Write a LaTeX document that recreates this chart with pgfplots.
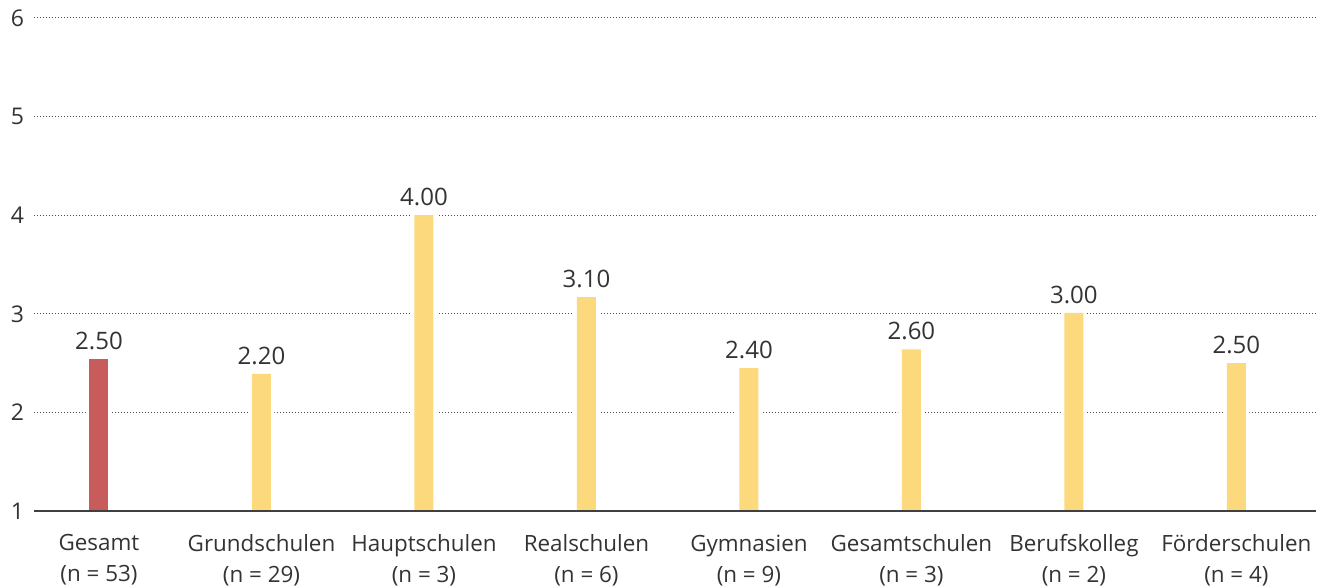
\documentclass[border=0pt]{standalone}
\usepackage{fontspec}
\setmainfont{Open Sans}
\usepackage{pgfplots}
\usepackage{pgfplotstable}
\pgfplotsset{compat=1.18}
\definecolor{barred}{RGB}{200,92,92}
\definecolor{baryel}{RGB}{253,217,125}
\definecolor{txt}{RGB}{51,51,51}
\pgfplotstableread{
x y label
0 2.54 2.50
}\redtab
\pgfplotstableread{
x y label
1 2.39 2.20
2 4.00 4.00
3 3.17 3.10
4 2.45 2.40
5 2.64 2.60
6 3.01 3.00
7 2.50 2.50
}\yeltab
\pgfplotstableread{
x y
0 2.54
1 2.39
2 4.00
3 3.17
4 2.45
5 2.64
6 3.01
7 2.50
}\alltab
\begin{document}
\begin{tikzpicture}
\begin{axis}[
  at={(0,0)}, anchor=south west,
  scale only axis,
  width=641pt, height=246.5pt,
  xmin=-0.4, xmax=7.49,
  ymin=1, ymax=6,
  ytick={1,2,3,4,5,6},
  xtick={0,1,2,3,4,5,6,7},
  xticklabels={{Gesamt\\(n = 53)},{Grundschulen\\(n = 29)},{Hauptschulen\\(n = 3)},{Realschulen\\(n = 6)},{Gymnasien\\(n = 9)},{Gesamtschulen\\(n = 3)},{Berufskolleg\\(n = 2)},{Förderschulen\\(n = 4)}},
  xticklabel style={align=center, font=\fontsize{11.2}{15.5}\selectfont, text=txt, yshift=-4pt},
  yticklabel style={font=\fontsize{11.5}{12}\selectfont, text=txt, xshift=-1.5pt},
  /pgf/number format/assume math mode=true,
  axis line style={draw=none},
  tick style={draw=none},
  ymajorgrids,
  major grid style={draw=black!70, line width=0.5pt, dash pattern=on 0.5pt off 1pt},
  ybar, bar shift=0pt,
  nodes near coords,
  point meta=explicit symbolic,
  nodes near coords style={font=\fontsize{12}{14}\selectfont, text=txt, yshift=1pt},
  clip=false,
]
\addplot[fill=white, draw=none, bar width=13pt, nodes near coords={}] table[x=x,y=y] {\alltab};
\addplot[fill=barred, draw=none, bar width=9.5pt] table[x=x,y=y,meta=label] {\redtab};
\addplot[fill=baryel, draw=none, bar width=9.5pt] table[x=x,y=y,meta=label] {\yeltab};
\draw[draw=black!75, line width=0.75pt] (axis cs:-0.4,1) -- (axis cs:7.49,1);
\end{axis}
\pgfresetboundingbox
\path (-17pt,-38.5pt) rectangle (644.5pt,255.5pt);
\end{tikzpicture}
\end{document}
